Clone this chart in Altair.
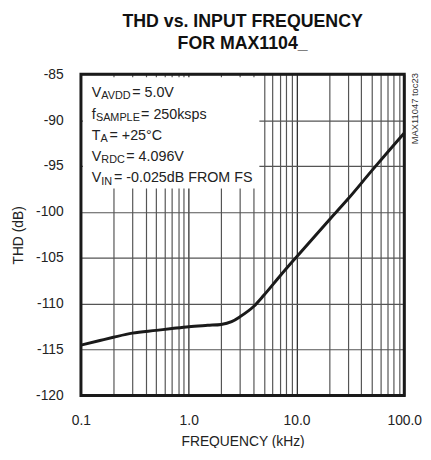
import altair as alt
import pandas as pd

# ---- data ----
freq_khz = [0.1, 0.15, 0.2, 0.3, 0.5, 0.7, 1.0, 1.5, 2.0, 2.5, 3.0, 4.0, 5.0,
            7.0, 10.0, 20.0, 30.0, 50.0, 70.0, 100.0]
thd_db = [-114.5, -114.0, -113.65, -113.2, -112.9, -112.7, -112.5, -112.35, -112.25,
          -111.95, -111.4, -110.3, -109.05, -107.0, -104.9, -100.9,
          -98.6, -95.5, -93.5, -91.4]

y_ticks = [-120, -115, -110, -105, -100, -95, -90, -85]
x_grid = [0.1, 0.2, 0.3, 0.4, 0.5, 0.6, 0.7, 0.8, 0.9,
          1, 2, 3, 4, 5, 6, 7, 8, 9,
          10, 20, 30, 40, 50, 60, 70, 80, 90, 100]

title_lines = ["THD vs. INPUT FREQUENCY", "FOR MAX1104_"]
x_title = "FREQUENCY (kHz)"
y_title = "THD (dB)"
side_note = "MAX11047 toc23"

# legend lines: (main, subscript, rest)
cond_main = ["V", "f", "T", "V", "V"]
cond_sub = ["AVDD", "SAMPLE", "A", "RDC", "IN"]
cond_rest = ["= 5.0V", "= 250ksps", "= +25°C", "= 4.096V", "= -0.025dB FROM FS"]

FONT = "Liberation Sans, Arial, sans-serif"
W, H = 328, 326

df = pd.DataFrame({"f": freq_khz, "thd": thd_db})

xscale = alt.Scale(type="log", domain=[0.1, 100], nice=False)
yscale = alt.Scale(domain=[-120, -85], nice=False)

decade_test = "abs(log(datum.value)/LN10 - round(log(datum.value)/LN10)) < 0.001"

xaxis = alt.Axis(
    values=x_grid, title=x_title, domain=False, ticks=False, grid=True,
    gridColor={"condition": {"test": decade_test, "value": "#1e1e1e"}, "value": "#555555"},
    gridWidth=1.2,
    labelExpr=f"{decade_test} ? format(datum.value, '.1f') : ''",
    labelFont=FONT, labelFontSize=14, labelColor="#222", labelPadding=18,
    labelFlush=False, labelOverlap=False,
    titleFont=FONT, titleFontSize=14, titleFontWeight="normal", titleColor="#222",
    titlePadding=8,
)
yaxis = alt.Axis(
    values=y_ticks, title=y_title, domain=False, ticks=False, grid=True,
    gridColor="#555555", gridWidth=1.2,
    labelExpr="'-' + format(abs(datum.value), 'd')",
    labelFont=FONT, labelFontSize=14, labelColor="#222", labelPadding=18,
    labelFlush=False, labelOverlap=False,
    titleFont=FONT, titleFontSize=14, titleFontWeight="normal", titleColor="#222",
    titlePadding=10,
)

base = alt.Chart(df)

grid_layer = base.mark_line(opacity=0).encode(
    x=alt.X("f:Q", scale=xscale, axis=xaxis),
    y=alt.Y("thd:Q", scale=yscale, axis=yaxis),
)

one = alt.Data(values=[{"a": 1}])

box = alt.Chart(one).mark_rect(fill="white").encode(
    x=alt.value(2), x2=alt.value(181), y=alt.value(3), y2=alt.value(116)
)

curve = base.mark_line(color="#1a1a1a", strokeWidth=3, interpolate="monotone").encode(
    x=alt.X("f:Q", scale=xscale),
    y=alt.Y("thd:Q", scale=yscale),
)

border = alt.Chart(one).mark_rect(fill=None, stroke="#1a1a1a", strokeWidth=3).encode(
    x=alt.value(0), x2=alt.value(W), y=alt.value(0), y2=alt.value(H)
)

# legend text layout (pixel positions inside the plot area)
base_y = [23, 45, 66.5, 88, 109.7]
sub_x = [20.7, 15.2, 19.9, 20.7, 20.7]
rest_x = [52, 61, 29, 46, 33.5]

texts = []
for i in range(5):
    texts.append(alt.Chart(one).mark_text(
        font=FONT, fontSize=14.5, color="#222", align="left", baseline="alphabetic"
    ).encode(x=alt.value(11), y=alt.value(base_y[i]), text=alt.value(cond_main[i])))
    texts.append(alt.Chart(one).mark_text(
        font=FONT, fontSize=11, color="#222", align="left", baseline="alphabetic"
    ).encode(x=alt.value(sub_x[i]), y=alt.value(base_y[i] + 2.5), text=alt.value(cond_sub[i])))
    texts.append(alt.Chart(one).mark_text(
        font=FONT, fontSize=14.5, color="#222", align="left", baseline="alphabetic"
    ).encode(x=alt.value(rest_x[i]), y=alt.value(base_y[i]), text=alt.value(cond_rest[i])))

side = alt.Chart(one).mark_text(
    font=FONT, fontSize=9.5, color="#333", angle=270, align="center", baseline="middle"
).encode(x=alt.value(339), y=alt.value(35), text=alt.value(side_note))

chart = alt.layer(grid_layer, box, curve, border, *texts, side).properties(
    width=W, height=H,
    autosize=alt.AutoSizeParams(type="none"),
    padding={"left": 74, "top": 64, "right": 19, "bottom": 50},
    title=alt.TitleParams(
        text=title_lines, font=FONT, fontSize=18, fontWeight="bold", color="#111",
        anchor="middle", frame="group", offset=15, lineHeight=22,
    ),
).configure_view(stroke=None).configure(background="white")

chart.save("out.html", embed_options={"renderer": "svg", "actions": False})
